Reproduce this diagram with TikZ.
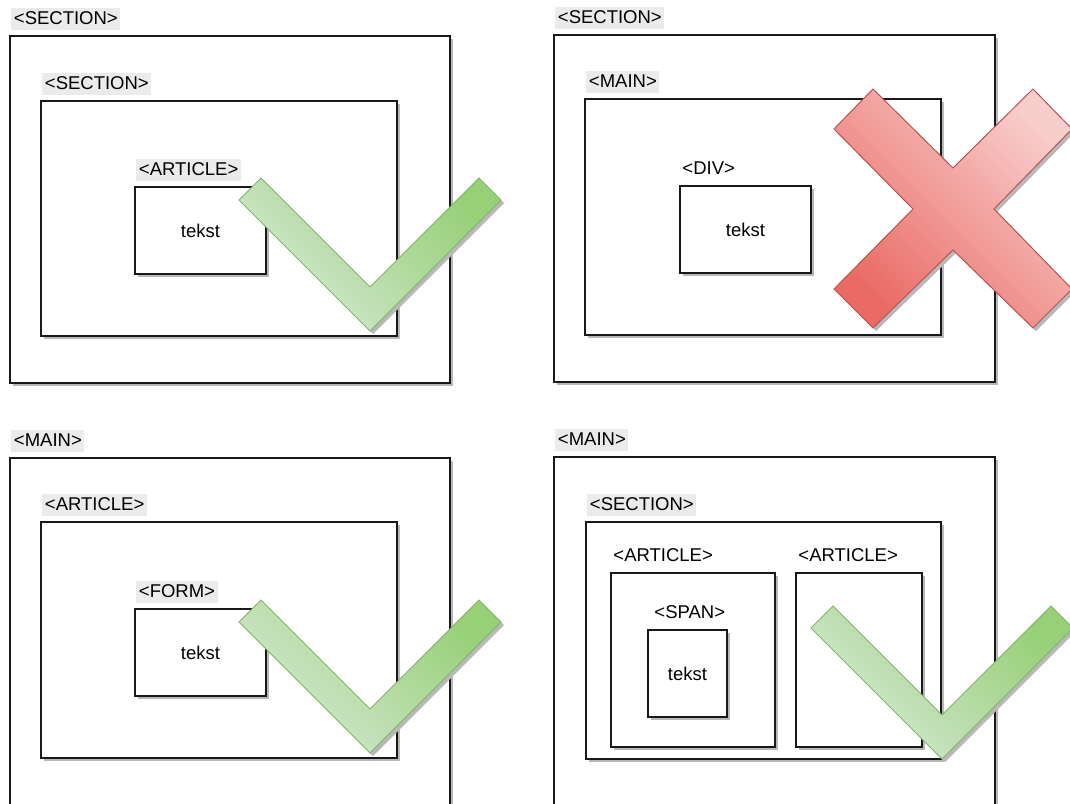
\documentclass[tikz,border=0pt]{standalone}
\usepackage{fontspec}
\setmainfont{Liberation Sans}
\usetikzlibrary{positioning,shadows}
\definecolor{tagGray}{HTML}{EBEBEB}
\definecolor{checkLight}{HTML}{D5E8D4}
\definecolor{checkDark}{HTML}{97D077}
\definecolor{checkLine}{HTML}{82B366}
\definecolor{crossLight}{HTML}{F8CECC}
\definecolor{crossDark}{HTML}{EA6B66}
\definecolor{crossLine}{HTML}{B85450}
\newcommand\tagfont{\fontsize{18.5}{22}\selectfont}
\tikzset{
  softshadow/.style={drop shadow={shadow xshift=3pt, shadow yshift=-3pt, fill=black!28, opacity=1}},
  box/.style={draw=black!90, line width=1.5pt, fill=white, inner sep=0pt, font=\tagfont, softshadow},
  tag/.style={fill=tagGray, font=\tagfont, inner xsep=2.5pt, inner ysep=3.5pt, text height=13pt, text depth=2pt},
  plaintag/.style={tag, fill=none},
  check/.style={draw=checkLine, line width=1pt, line join=miter, left color=checkLight, right color=checkDark, shading angle=135, softshadow},
  cross/.style={draw=crossLine, line width=1pt, line join=miter, left color=crossDark, right color=crossLight, shading angle=135, softshadow},
}
\begin{document}
\begin{tikzpicture}[x=1pt, y=-1pt]
  \useasboundingbox (0,0) rectangle (1070,803);
  \clip (0,0) rectangle (1070,803);
  \fill[white] (0,0) rectangle (1070,803);

  % top left: section > section > article
  \node[box, minimum width=440, minimum height=347] (tlOuter) at (230,209.5) {};
  \node[tag, above right=5.5pt and 2pt of tlOuter.north west] (tlOuterTag) {<SECTION>};
  \node[box, minimum width=356, minimum height=235] (tlSection) at (219,218.5) {};
  \node[tag, above right=5.5pt and 2pt of tlSection.north west] (tlSectionTag) {<SECTION>};
  \node[box, minimum width=131, minimum height=87] (tlArticle) at (200.5,230.5) {tekst};
  \node[tag, above right=5.5pt and 2pt of tlArticle.north west] (tlArticleTag) {<ARTICLE>};
  \draw[check, shift={(370,287)}] (-131,-87) -- (-109,-109) -- (0,0) -- (109,-109) -- (131,-87) -- (0,44) -- cycle;

  % top right: section > main > div
  \node[box, minimum width=441, minimum height=347] (trOuter) at (774.5,208.5) {};
  \node[tag, above right=5.5pt and 2pt of trOuter.north west] (trOuterTag) {<SECTION>};
  \node[box, minimum width=356, minimum height=236] (trMain) at (763,217) {};
  \node[tag, above right=5.5pt and 2pt of trMain.north west] (trMainTag) {<MAIN>};
  \node[box, minimum width=131, minimum height=87] (trDiv) at (745.5,229.5) {tekst};
  \node[plaintag, above right=5.5pt and 0.5pt of trDiv.north west] (trDivTag) {<DIV>};
  \draw[cross, shift={(953,209)}] (-80,-120) -- (0,-41) -- (80,-120) -- (119,-80) -- (41,0) -- (119,80)
    -- (80,119) -- (0,41) -- (-80,119) -- (-119,80) -- (-40,0) -- (-119,-80) -- cycle;

  % bottom left: main > article > form
  \node[box, minimum width=440, minimum height=357] (blOuter) at (230,636.5) {};
  \node[tag, above right=5.5pt and 2pt of blOuter.north west] (blOuterTag) {<MAIN>};
  \node[box, minimum width=356, minimum height=236] (blArticle) at (219,640) {};
  \node[tag, above right=5.5pt and 2pt of blArticle.north west] (blArticleTag) {<ARTICLE>};
  \node[box, minimum width=131, minimum height=87] (blForm) at (200.5,652.5) {tekst};
  \node[tag, above right=5.5pt and 2pt of blForm.north west] (blFormTag) {<FORM>};
  \draw[check, shift={(370,709)}] (-131,-87) -- (-109,-109) -- (0,0) -- (109,-109) -- (131,-87) -- (0,44) -- cycle;

  % bottom right: main > section > article + article > span
  \node[box, minimum width=441, minimum height=358] (brOuter) at (774.5,636) {};
  \node[tag, above right=5.5pt and 2pt of brOuter.north west] (brOuterTag) {<MAIN>};
  \node[box, minimum width=355, minimum height=237] (brSection) at (763.5,640.5) {};
  \node[tag, above right=5.5pt and 2pt of brSection.north west] (brSectionTag) {<SECTION>};
  \node[box, minimum width=164, minimum height=174] (brArticleA) at (693,660) {};
  \node[plaintag, above right=5.5pt and 0.5pt of brArticleA.north west] (brArticleATag) {<ARTICLE>};
  \node[box, minimum width=126, minimum height=174] (brArticleB) at (859,660) {};
  \node[plaintag, above right=5.5pt and 0.5pt of brArticleB.north west] (brArticleBTag) {<ARTICLE>};
  \node[box, minimum width=79, minimum height=87] (brSpan) at (687.5,673.5) {tekst};
  \node[plaintag, above right=5.5pt and 4.5pt of brSpan.north west] (brSpanTag) {<SPAN>};
  \draw[check, shift={(942,715)}] (-131,-87) -- (-109,-109) -- (0,0) -- (109,-109) -- (131,-87) -- (0,44) -- cycle;
\end{tikzpicture}
\end{document}
